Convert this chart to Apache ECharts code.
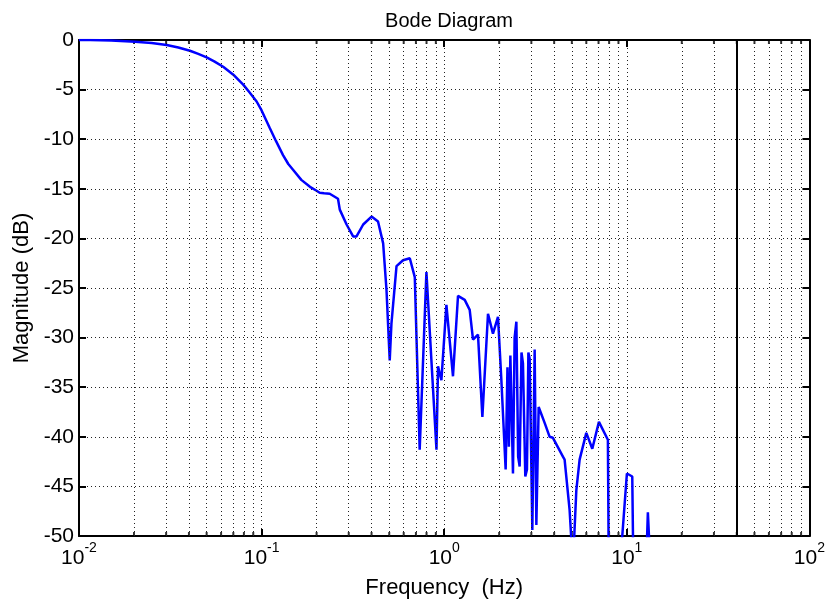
<!DOCTYPE html>
<html>
<head>
<meta charset="utf-8">
<script src="https://cdn.jsdelivr.net/npm/echarts@6/dist/echarts.min.js"></script>
<style>
  html, body { margin: 0; padding: 0; background: #fff; }
  #chart { width: 828px; height: 605px; }
</style>
</head>
<body>
<div id="chart"></div>
<script>
// frequency (Hz) and magnitude (dB)
var freq = [0.01, 0.0115, 0.015, 0.0203, 0.025, 0.0302, 0.035, 0.0405, 0.045, 0.05,
  0.055, 0.0616, 0.07, 0.0793, 0.086, 0.0939, 0.1, 0.111, 0.12, 0.131,
  0.14, 0.149, 0.165, 0.184, 0.2, 0.208, 0.22, 0.236, 0.262, 0.268,
  0.292, 0.317, 0.331, 0.36, 0.4, 0.434, 0.463, 0.483, 0.503, 0.514,
  0.548, 0.595, 0.648, 0.69, 0.734, 0.799, 0.815, 0.907, 0.925, 0.965,
  1.028, 1.049, 1.117, 1.19, 1.295, 1.323, 1.379, 1.438, 1.469, 1.531,
  1.618, 1.737, 1.849, 1.97, 2.056, 2.17, 2.22, 2.26, 2.303, 2.38,
  2.43, 2.484, 2.54, 2.589, 2.65, 2.699, 2.78, 2.839, 2.89, 2.937,
  3.038, 3.128, 3.196, 3.29, 3.548, 3.779, 3.939, 4.468, 4.564, 4.861,
  5.068, 5.29, 5.514, 6.0, 6.47, 7.034, 7.876, 7.976, 9.015, 10.01,
  10.71, 10.89, 12.66, 13.04, 13.61, 20, 40, 100];
var magDb = [0, 0, -0.05, -0.17, -0.3, -0.5, -0.75, -1.08, -1.4, -1.75,
  -2.15, -2.7, -3.5, -4.5, -5.3, -6.2, -7.1, -8.9, -10.2, -11.6,
  -12.5, -13.1, -14.1, -14.8, -15.2, -15.4, -15.45, -15.5, -16.0, -17.1,
  -18.6, -19.8, -19.8, -18.6, -17.8, -18.3, -20.5, -25.2, -32.3, -28.6,
  -22.8, -22.2, -22.0, -23.9, -41.3, -23.4, -23.4, -41.3, -32.9, -34.3,
  -26.7, -26.7, -33.9, -25.8, -26.2, -26.4, -27.2, -30.2, -30.2, -29.7,
  -38.0, -27.6, -29.6, -27.9, -34.3, -43.3, -33.0, -41.0, -31.8, -43.7,
  -30.0, -28.4, -42.0, -43.0, -31.5, -32.6, -44.0, -43.3, -31.5, -32.1,
  -49.4, -31.2, -48.9, -37.0, -38.6, -40.0, -40.1, -42.0, -42.3, -47.4,
  -53, -45.4, -42.3, -39.6, -41.2, -38.5, -40.3, -55, -55, -43.7,
  -44.0, -55, -55, -47.6, -55, -60, -65, -70];

var decades = [0.01, 0.1, 1, 10, 100];
var minorSteps = [2, 3, 4, 5, 6, 7, 8, 9];
var markerFreq = 40;

var font = 'Liberation Sans, Arial, sans-serif';

var minorFreqs = [];
for (var d = 0; d < decades.length - 1; d++) {
  for (var k = 0; k < minorSteps.length; k++) {
    minorFreqs.push(+(decades[d] * minorSteps[k]).toPrecision(3));
  }
}

var lineData = freq.map(function (f, i) { return [f, magDb[i]]; });

var chart = echarts.init(document.getElementById('chart'));
var dotted = { type: [1, 3], color: '#222', width: 1 };

chart.setOption({
  backgroundColor: '#fff',
  animation: false,
  title: {
    text: 'Bode Diagram',
    left: 444,
    textAlign: 'center',
    top: 6,
    textStyle: { fontFamily: font, fontSize: 20, fontWeight: 'normal', color: '#000' }
  },
  grid: { left: 79, right: 18, top: 40, bottom: 69, containLabel: false },
  xAxis: [{
    type: 'log',
    logBase: 10,
    min: 0.01,
    max: 100,
    position: 'bottom',
    name: 'Frequency  (Hz)',
    nameLocation: 'middle',
    nameGap: 41,
    nameTextStyle: { fontFamily: font, fontSize: 22, color: '#000' },
    axisLine: { show: true, onZero: false, lineStyle: { color: '#000', width: 2 } },
    axisTick: { show: true, inside: true, length: 7, lineStyle: { color: '#000', width: 2 } },
    axisLabel: {
      margin: 5,
      formatter: function (v) {
        var e = Math.round(Math.log10(v));
        return '{b|10}{s|' + e + '}';
      },
      rich: {
        b: { fontFamily: font, fontSize: 21, color: '#000', lineHeight: 28, verticalAlign: 'bottom' },
        s: { fontFamily: font, fontSize: 14, color: '#000', lineHeight: 28, verticalAlign: 'top' }
      }
    },
    splitLine: { show: true, lineStyle: dotted }
  }, {
    type: 'log',
    logBase: 10,
    min: 0.01,
    max: 100,
    position: 'top',
    axisLine: { show: true, onZero: false, lineStyle: { color: '#000', width: 2 } },
    axisTick: { show: true, inside: true, length: 7, lineStyle: { color: '#000', width: 2 } },
    axisLabel: { show: false },
    splitLine: { show: false }
  }],
  yAxis: [{
    type: 'value',
    min: -50,
    max: 0,
    interval: 5,
    position: 'left',
    name: 'Magnitude (dB)',
    nameLocation: 'middle',
    nameGap: 46,
    nameTextStyle: { fontFamily: font, fontSize: 22, color: '#000' },
    axisLine: { show: true, lineStyle: { color: '#000', width: 2 } },
    axisTick: { show: true, inside: true, length: 7, lineStyle: { color: '#000', width: 2 } },
    axisLabel: { margin: 5, fontFamily: font, fontSize: 21, color: '#000' },
    splitLine: { show: true, lineStyle: dotted }
  }, {
    type: 'value',
    min: -50,
    max: 0,
    interval: 5,
    position: 'right',
    axisLine: { show: true, lineStyle: { color: '#000', width: 2 } },
    axisTick: { show: true, inside: true, length: 7, lineStyle: { color: '#000', width: 2 } },
    axisLabel: { show: false },
    splitLine: { show: false }
  }],
  series: [{
    // minor log grid lines
    type: 'line',
    data: [],
    silent: true,
    z: 1,
    markLine: {
      silent: true,
      symbol: 'none',
      label: { show: false },
      lineStyle: dotted,
      data: minorFreqs.map(function (v) { return { xAxis: v }; })
    }
  }, {
    // minor ticks, bottom
    type: 'scatter',
    data: minorFreqs.map(function (v) { return [v, -50]; }),
    symbol: 'rect',
    symbolSize: [2, 4],
    symbolOffset: [0, -2],
    itemStyle: { color: '#000' },
    silent: true,
    clip: false,
    z: 3
  }, {
    // minor ticks, top
    type: 'scatter',
    data: minorFreqs.map(function (v) { return [v, 0]; }),
    symbol: 'rect',
    symbolSize: [2, 4],
    symbolOffset: [0, 2],
    itemStyle: { color: '#000' },
    silent: true,
    clip: false,
    z: 3
  }, {
    name: 'Magnitude',
    type: 'line',
    data: lineData,
    showSymbol: false,
    clip: true,
    lineStyle: { color: '#0000ff', width: 2.5 },
    z: 4,
    markLine: {
      silent: true,
      symbol: 'none',
      label: { show: false },
      lineStyle: { color: '#000', width: 2, type: 'solid' },
      data: [{ xAxis: markerFreq }]
    }
  }]
});
</script>
</body>
</html>
